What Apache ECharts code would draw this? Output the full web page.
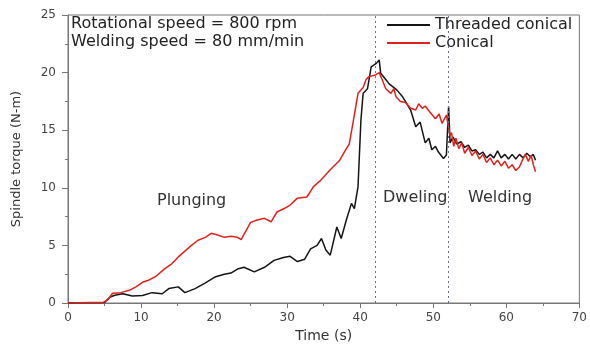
<!DOCTYPE html>
<html>
<head>
<meta charset="utf-8">
<script src="https://cdn.jsdelivr.net/npm/echarts@6/dist/echarts.min.js"></script>
<style>html,body{margin:0;padding:0;background:#fff}#c{width:590px;height:349px}</style>
</head>
<body>
<div id="c"></div>
<script>
var threadedT = [0,2,4,5,5.7,6.4,7.5,8.8,10.2,11.5,12.9,13.8,15.1,16,17.4,18.7,20.1,21.4,22.3,23.2,24.1,25.5,26.9,28.2,29.5,30.4,31.4,32.4,33.2,34.1,34.7,35.3,35.9,36.8,37.4,38.1,38.8,39.2,39.7,40.1,40.4,41,41.5,42.2,42.6,42.8,43.5,44.0,44.4,45.0,45.8,46.3,46.9,47.6,48.2,48.9,49.4,49.8,50.3,50.7,51.4,51.8,52.1,52.3,52.7,53.2,53.8,54.3,54.8,55.3,55.8,56.3,56.8,57.3,57.8,58.3,58.8,59.3,59.8,60.3,60.8,61.3,61.8,62.3,62.8,63.3,63.7,64];
var threadedV = [0,0.02,0.03,0.05,0.5,0.67,0.8,0.6,0.65,0.9,0.8,1.25,1.4,0.9,1.25,1.7,2.25,2.5,2.6,2.95,3.1,2.7,3.1,3.7,3.95,4.05,3.6,3.8,4.7,5.0,5.6,4.6,4.15,6.6,5.6,7.2,8.65,8.2,10.1,15.9,18.2,18.6,20.5,20.8,21.1,19.95,19.4,19.0,18.8,18.5,17.9,17.4,16.75,15.3,15.7,13.9,14.3,13.3,13.6,13.1,12.55,12.85,17.05,13.9,14.4,13.8,14.0,13.5,13.7,13.2,13.3,12.9,13.1,12.6,12.9,12.6,13.2,12.6,12.9,12.5,12.9,12.5,12.9,12.6,13.0,12.7,12.9,12.4];
var conicalT = [0,3,4.8,5.5,6.1,7.2,8.4,9.3,10.2,11.1,12,13.3,14.2,15.1,16,16.9,17.8,18.8,19.6,20.5,21.4,22.3,23.2,23.7,25,25.9,26.9,27.8,28.6,29.6,30.4,31.4,32.7,33.6,34.5,35.8,37.2,38.1,38.5,39,39.7,40.4,40.8,41.2,42.1,42.6,43,43.5,44.2,44.6,44.9,45.5,46.2,46.9,47.6,48,48.5,48.9,49.5,50.3,50.8,51.2,51.8,52.3,52.5,52.8,53.1,53.5,53.9,54.3,54.8,55.3,55.8,56.3,56.8,57.3,57.8,58.3,58.8,59.3,59.8,60.3,60.8,61.3,61.8,62.2,62.6,63.0,63.4,63.7,64];
var conicalV = [0,0.05,0.05,0.3,0.85,0.9,1.1,1.4,1.8,2.0,2.3,3.0,3.4,4.0,4.5,5.0,5.45,5.7,6.05,5.9,5.7,5.8,5.7,5.5,7.0,7.2,7.35,7.05,7.9,8.2,8.5,9.1,9.2,10.1,10.6,11.5,12.4,13.4,13.8,15.6,18.2,18.7,19.4,19.65,19.8,20.0,19.4,18.6,18.2,18.6,17.9,17.5,17.4,16.9,16.75,17.3,16.9,17.1,16.6,16.0,16.4,15.6,16.3,14.5,14.8,13.6,14.3,13.4,13.9,13.0,13.5,12.8,13.2,12.5,12.9,12.2,12.6,12.0,12.4,11.9,12.3,11.7,12.0,11.5,11.8,12.4,12.9,12.3,12.8,12.0,11.4];
var phaseLines = [42, 52];
var xTicks = {min:0, max:70, interval:10};
var yTicks = {min:0, max:25, interval:5};

function pairs(t, v){ return t.map(function(x,i){ return [x, v[i]]; }); }
var font = '"DejaVu Sans", Verdana, sans-serif';
var chart = echarts.init(document.getElementById('c'), null, {renderer:'canvas'});
chart.setOption({
  animation:false,
  backgroundColor:'#ffffff',
  textStyle:{fontFamily:font},
  grid:{left:68, right:3, top:15, bottom:46, show:true, borderColor:'#777', borderWidth:1},
  legend:{
    data:['Threaded conical','Conical'],
    orient:'vertical', left:387, top:17, padding:0, itemWidth:43, itemHeight:2, itemGap:2, icon:'rect',
    textStyle:{fontSize:16, color:'#222', fontFamily:font}
  },
  xAxis:{
    type:'value', min:xTicks.min, max:xTicks.max, interval:xTicks.interval,
    name:'Time (s)', nameLocation:'middle', nameGap:26,
    nameTextStyle:{fontSize:14, color:'#333', fontFamily:font},
    axisLine:{lineStyle:{color:'#777'}},
    axisTick:{show:true, length:5, lineStyle:{color:'#777'}},
    minorTick:{show:true, splitNumber:2, length:3, lineStyle:{color:'#777'}},
    axisLabel:{fontSize:12, color:'#444', margin:9, fontFamily:font},
    splitLine:{show:false}
  },
  yAxis:{
    type:'value', min:yTicks.min, max:yTicks.max, interval:yTicks.interval,
    name:'Spindle torque (N-m)', nameLocation:'middle', nameGap:45,
    nameTextStyle:{fontSize:13, color:'#333', fontFamily:font},
    axisLine:{show:true, lineStyle:{color:'#777'}},
    axisTick:{show:true, length:6, lineStyle:{color:'#777'}},
    minorTick:{show:true, splitNumber:2, length:3, lineStyle:{color:'#777'}},
    axisLabel:{fontSize:12, color:'#444', margin:12, fontFamily:font},
    splitLine:{show:false}
  },
  series:[
    {name:'Threaded conical', type:'line', data:pairs(threadedT, threadedV), showSymbol:false,
     lineStyle:{color:'#151515', width:1.5}, itemStyle:{color:'#151515'},
     markLine:{silent:true, symbol:'none', label:{show:false},
       lineStyle:{color:'#6b7388', type:[2,3], width:1},
       data:phaseLines.map(function(x){return {xAxis:x};})}
    },
    {name:'Conical', type:'line', data:pairs(conicalT, conicalV), showSymbol:false,
     lineStyle:{color:'#e2211c', width:1.5}, itemStyle:{color:'#e2211c'}}
  ],
  graphic:[
    {type:'text', left:71, top:16, style:{text:'Rotational speed = 800 rpm', fill:'#222', font:'16px '+font}},
    {type:'text', left:71, top:34, style:{text:'Welding speed = 80 mm/min', fill:'#222', font:'16px '+font}},
    {type:'text', left:157, top:193, style:{text:'Plunging', fill:'#333', font:'16px '+font}},
    {type:'text', left:383, top:190, style:{text:'Dweling', fill:'#333', font:'16px '+font}},
    {type:'text', left:468, top:190, style:{text:'Welding', fill:'#333', font:'16px '+font}}
  ]
});
</script>
</body>
</html>
